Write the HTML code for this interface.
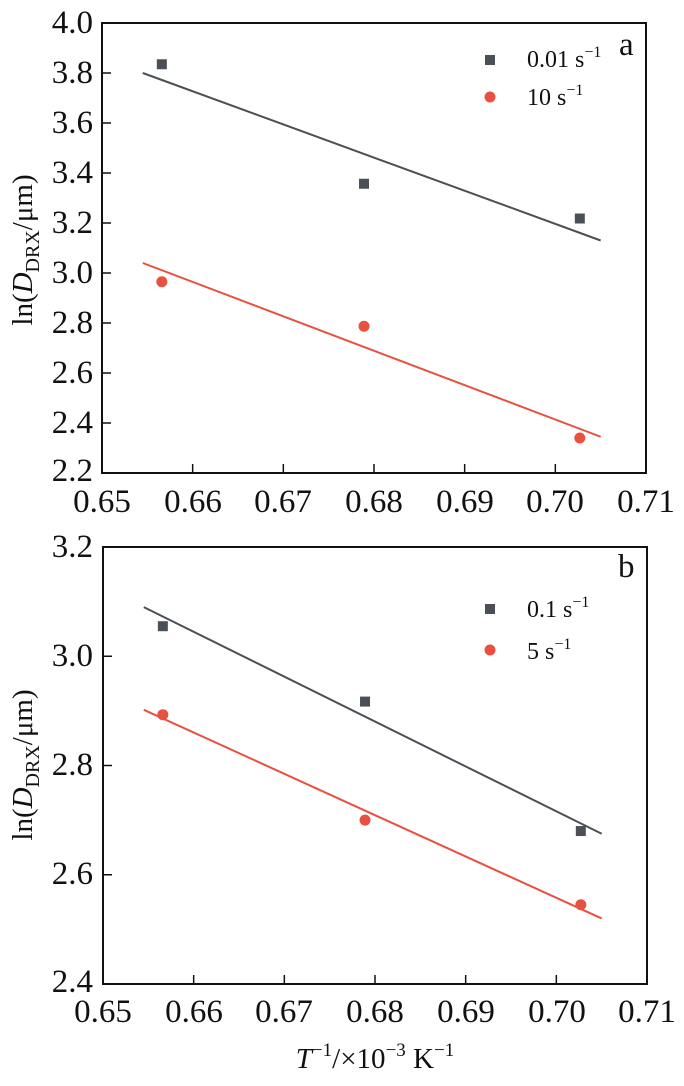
<!DOCTYPE html>
<html><head><meta charset="utf-8"><style>
html,body{margin:0;padding:0;background:#fff;}
svg, svg text{font-family:"Liberation Serif","Times New Roman",Times,serif;}
</style></head><body>
<svg id="s" width="684" height="1081" viewBox="0 0 684 1081" xmlns="http://www.w3.org/2000/svg" font-family="Liberation Serif, Times New Roman, serif">
<g font-size="33" fill="#111">
<text x="93" y="33" text-anchor="end">4.0</text>
<text x="93" y="83" text-anchor="end">3.8</text>
<text x="93" y="133" text-anchor="end">3.6</text>
<text x="93" y="183" text-anchor="end">3.4</text>
<text x="93" y="233" text-anchor="end">3.2</text>
<text x="93" y="283" text-anchor="end">3.0</text>
<text x="93" y="333" text-anchor="end">2.8</text>
<text x="93" y="383" text-anchor="end">2.6</text>
<text x="93" y="433" text-anchor="end">2.4</text>
<text x="93" y="481" text-anchor="end">2.2</text>
<g text-anchor="middle">
<text x="102" y="512">0.65</text><text x="193" y="512">0.66</text><text x="283" y="512">0.67</text><text x="374" y="512">0.68</text><text x="465" y="512">0.69</text><text x="555" y="512">0.70</text><text x="646" y="512">0.71</text>
</g>
<text x="93" y="557" text-anchor="end">3.2</text>
<text x="93" y="666" text-anchor="end">3.0</text>
<text x="93" y="775" text-anchor="end">2.8</text>
<text x="93" y="884" text-anchor="end">2.6</text>
<text x="93" y="992" text-anchor="end">2.4</text>
<g text-anchor="middle">
<text x="103" y="1022">0.65</text><text x="194" y="1022">0.66</text><text x="284" y="1022">0.67</text><text x="375" y="1022">0.68</text><text x="466" y="1022">0.69</text><text x="557" y="1022">0.70</text><text x="647" y="1022">0.71</text>
</g>
<text x="375" y="1068" text-anchor="middle" font-size="29"><tspan font-style="italic">T</tspan><tspan font-size="19" dy="-12">−1</tspan><tspan dy="12">/×10</tspan><tspan font-size="19" dy="-12">−3</tspan><tspan dy="12"> K</tspan><tspan font-size="19" dy="-12">−1</tspan></text>
<text transform="translate(32,250) rotate(-90)" text-anchor="middle" font-size="29">ln(<tspan font-style="italic">D</tspan><tspan font-size="20" dy="7">DRX</tspan><tspan dy="-7">/μm)</tspan></text>
<text transform="translate(32,765) rotate(-90)" text-anchor="middle" font-size="29">ln(<tspan font-style="italic">D</tspan><tspan font-size="20" dy="7">DRX</tspan><tspan dy="-7">/μm)</tspan></text>
<g font-size="24">
<text x="527" y="67">0.01 s<tspan font-size="16" dy="-10">−1</tspan></text>
<text x="527" y="105">10 s<tspan font-size="16" dy="-10">−1</tspan></text>
<text x="527" y="617">0.1 s<tspan font-size="16" dy="-10">−1</tspan></text>
<text x="527" y="659">5 s<tspan font-size="16" dy="-10">−1</tspan></text>
</g>
<text x="619" y="55">a</text>
<text x="618" y="577">b</text>
</g>
<rect x="485" y="55" width="10" height="10" fill="#4a5055"/>
<circle cx="490" cy="97" r="5.5" fill="#e8503f"/>
<rect x="485" y="604" width="10" height="10" fill="#4a5055"/>
<circle cx="490" cy="650" r="5.5" fill="#e8503f"/>
<g id="g"></g>
<rect x="102" y="23" width="544" height="450" fill="none" stroke="#111" stroke-width="2"/>
<rect x="103" y="547" width="544" height="437" fill="none" stroke="#111" stroke-width="2"/>
</svg>
<script>
var g=document.getElementById('g'),NS="http://www.w3.org/2000/svg";
function el(t,a){var e=document.createElementNS(NS,t);for(var k in a)e.setAttribute(k,a[k]);g.appendChild(e);}
function panel(x0,x1,y0,y1,ymin,ymax,ystep,ser){
 function X(v){return x0+(v-0.65)/0.06*(x1-x0);}
 function Y(v){return y1-(v-ymin)/(ymax-ymin)*(y1-y0);}
 for(var v=0.66;v<0.705;v+=0.01)el('line',{x1:X(v),x2:X(v),y1:y1,y2:y1-9,stroke:'#111','stroke-width':1.5});
 for(var v=ymin+ystep;v<ymax-1e-6;v+=ystep)el('line',{x1:x0,x2:x0+9,y1:Y(v),y2:Y(v),stroke:'#111','stroke-width':1.5});
 ser.forEach(function(s){
  el('line',{x1:X(0.6545),y1:Y(s.l[0]),x2:X(0.705),y2:Y(s.l[1]),stroke:s.c,'stroke-width':2});
  var xs=[0.6566,0.6789,0.7027];
  s.p.forEach(function(p,i){
   if(s.sq)el('rect',{x:X(xs[i])-5,y:Y(p)-5,width:10,height:10,fill:s.c});
   else el('circle',{cx:X(xs[i]),cy:Y(p),r:5.5,fill:s.c});
  });
 });
}
panel(102,646,23,473,2.2,4.0,0.2,[
 {c:'#4a5055',sq:1,l:[3.80,3.13],p:[3.835,3.357,3.218]},
 {c:'#e8503f',sq:0,l:[3.04,2.345],p:[2.965,2.787,2.34]}]);
panel(103,647,547,984,2.4,3.2,0.2,[
 {c:'#4a5055',sq:1,l:[3.09,2.675],p:[3.055,2.917,2.68]},
 {c:'#e8503f',sq:0,l:[2.902,2.52],p:[2.893,2.70,2.545]}]);
</script>
</body></html>
